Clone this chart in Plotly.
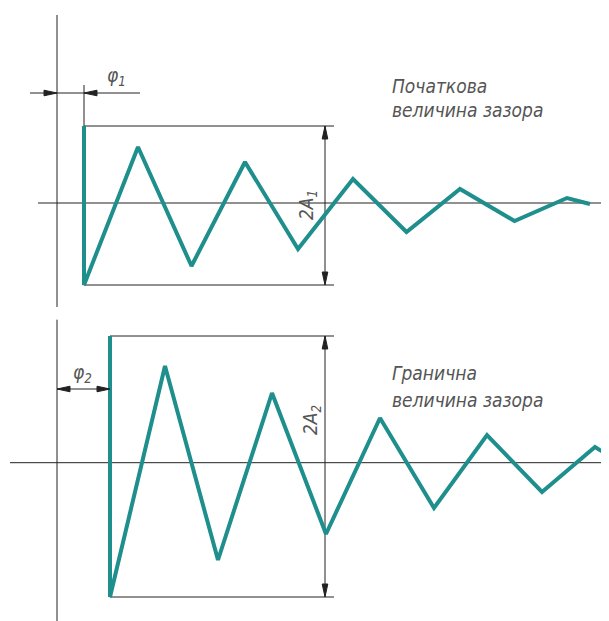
import plotly.graph_objects as go

# ---- data (offsets from each panel's axis origin; t to the right, amplitude up) ----
t_top = [27, 27, 81, 134.5, 188, 241, 296, 349.5, 403, 457.5, 510, 533]
a_top = [77, -82, 56, -63, 41, -46, 24, -29, 14, -18, 5, -1]

t_bot = [53, 53, 108, 161, 215, 269, 323, 377, 430, 485, 538, 560]
a_bot = [126.7, -134.3, 96.7, -97.3, 69.7, -71.3, 44.7, -45.3, 27.7, -29.3, 15.7, 2]

label_top = ["Початкова", "величина зазора"]
label_bot = ["Гранична", "величина зазора"]
dim_top = "2A<sub>1</sub>"
dim_bot = "2A<sub>2</sub>"
phi_top = "φ<sub>1</sub>"
phi_bot = "φ<sub>2</sub>"

TEAL = "#1e8f8c"
INK = "#222222"
TXT = "#555555"
FONT = "DejaVu Sans Condensed, Liberation Sans Narrow, Arial Narrow, sans-serif"

fig = go.Figure()
fig.add_trace(go.Scatter(x=t_top, y=a_top, mode="lines", xaxis="x", yaxis="y",
                         line=dict(color=TEAL, width=4), hoverinfo="skip", showlegend=False))
fig.add_trace(go.Scatter(x=t_bot, y=a_bot, mode="lines", xaxis="x", yaxis="y2",
                         line=dict(color=TEAL, width=4), hoverinfo="skip", showlegend=False))

shapes = []
def seg(x0, y0, x1, y1, yref, w=1, color=INK):
    shapes.append(dict(type="line", xref="x", yref=yref, x0=x0, y0=y0, x1=x1, y1=y1,
                       line=dict(color=color, width=w), layer="below"))

def head(x, y, dx, dy, yref, L=13, hw=2.8):
    # filled arrowhead with tip at (x, y) pointing along (dx, dy)
    px, py = -dy, dx
    bx, by = x - dx * L, y - dy * L
    p = (f"M {x},{y} L {bx + px * hw},{by + py * hw} "
         f"L {bx - px * hw},{by - py * hw} Z")
    shapes.append(dict(type="path", xref="x", yref=yref, path=p,
                       fillcolor=INK, line=dict(color=INK, width=1)))

# top panel axes
seg(0, 188, 0, -104, "y")
seg(-19, 0, 552, 0, "y")
# top extension / dimension lines
seg(27, 118, 27, 77, "y")
seg(-27, 110, 83, 110, "y")
seg(27, 77, 277, 77, "y")
seg(27, -82, 277, -82, "y")
seg(268, 77, 268, -82, "y")

# bottom panel axes
seg(0, 143, 0, -160, "y2")
seg(-47, 0, 552, 0, "y2")
seg(53, 126.7, 277, 126.7, "y2")
seg(53, -134.3, 277, -134.3, "y2")
seg(268, 126.7, 268, -134.3, "y2")
seg(0, 73.7, 53, 73.7, "y2")

head(0, 110, 1, 0, "y")
head(27, 110, -1, 0, "y")
head(268, 77, 0, 1, "y")
head(268, -82, 0, -1, "y")
head(0, 73.7, -1, 0, "y2")
head(53, 73.7, 1, 0, "y2")
head(268, 126.7, 0, 1, "y2")
head(268, -134.3, 0, -1, "y2")

annotations = []
def text(x, y, s, yref, size=19, angle=0, xanchor="left"):
    annotations.append(dict(x=x, y=y, xref="x", yref=yref, text=s,
                            showarrow=False, xanchor=xanchor, yanchor="middle",
                            textangle=angle,
                            font=dict(family=FONT, size=size, color=TXT, style="italic")))

text(333, 117, label_top[0], "y")
text(333, 93, label_top[1], "y")
text(333, 89.7, label_bot[0], "y2")
text(333, 62.7, label_bot[1], "y2")
text(250, -2, dim_top, "y", angle=-90, xanchor="center")
text(254, 42.7, dim_bot, "y2", angle=-90, xanchor="center")
text(48, 127, phi_top, "y")
text(14, 89, phi_bot, "y2")

# page body has an 8px margin: plot area starts at page (8, 8)
W, H = 601, 613
split = (H - 302.5) / H
fig.update_layout(
    width=W, height=H, margin=dict(l=0, r=0, t=0, b=0),
    paper_bgcolor="white", plot_bgcolor="white",
    xaxis=dict(range=[-49, 552], visible=False, fixedrange=True),
    yaxis=dict(domain=[split, 1], range=[-107.5, 195], visible=False, anchor="x"),
    yaxis2=dict(domain=[0, split], range=[-158.3, 152.2], visible=False, anchor="x"),
    shapes=shapes, annotations=annotations, showlegend=False,
)
fig.write_html("out.html")
